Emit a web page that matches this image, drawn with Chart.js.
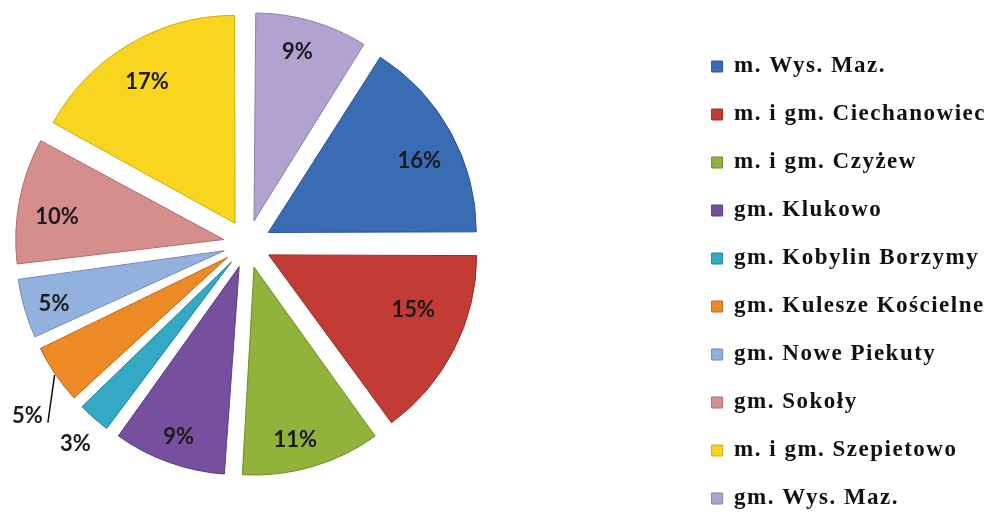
<!DOCTYPE html>
<html>
<head>
<meta charset="utf-8">
<script src="https://cdn.jsdelivr.net/npm/chart.js@4.4.1/dist/chart.umd.min.js"></script>
<style>
html,body{margin:0;padding:0;background:#fff;overflow:hidden;width:992px;height:525px;position:relative}
#wrap{position:absolute;left:-192px;top:-47px;width:1194px;height:582px}
</style>
</head>
<body>
<div id="wrap"><canvas id="c"></canvas></div>
<script>
// ---- data ----
const categories = [
  'm. Wys. Maz.',
  'm. i gm. Ciechanowiec',
  'm. i gm. Czyżew',
  'gm. Klukowo',
  'gm. Kobylin Borzymy',
  'gm. Kulesze Kościelne',
  'gm. Nowe Piekuty',
  'gm. Sokoły',
  'm. i gm. Szepietowo',
  'gm. Wys. Maz.'
];
const shares = [16, 15, 11, 9, 3, 5, 5, 10, 17, 9];

// ---- styles ----
const sliceColors = ['#3a6cb3','#c23b35','#8fb33b','#76509f','#34a9c6','#ec8a26','#92b1dc','#d58e8c','#f8d51e','#b2a2cf'];
const sliceBorders = ['#2b5590','#9a2b27','#6f8c2a','#5a3a7e','#23839b','#c06a14','#6f8cb8','#b06c6a','#cfae0a','#8f7fb0'];
const labelRadius = [0.807, 0.74, 0.845, 0.86, 1.145, 1.22, 0.855, 0.81, 0.81, 0.85];
const labelTurnDeg = [2.9, -7, 2.6, 0, -0.5, -3.8, -0.6, -2.5, -0.9, -2];
const labelLeader = [false, false, false, false, false, true, false, false, false, false];
const EXPLODE = 24;       // px translation of each slice
const PIE_RADIUS = 208;

const letterSpacingPlugin = {
  id: 'letterSpacing',
  beforeLayout(chart) { chart.ctx.letterSpacing = '1.5px'; },
  beforeDraw(chart) { chart.ctx.letterSpacing = '1.5px'; }
};

const radiusFixPlugin = {
  id: 'radiusFix',
  beforeDatasetsDraw(chart) {
    const meta = chart.getDatasetMeta(0);
    const base = meta.controller.outerRadius;
    meta.data.forEach(arc => {
      const fix = 1 - Math.sin(Math.min(Math.PI, arc.circumference || 0));
      arc.outerRadius = base - EXPLODE * fix;
    });
  }
};

const pctLabelPlugin = {
  id: 'pctLabels',
  afterDatasetsDraw(chart) {
    const ctx = chart.ctx;
    const meta = chart.getDatasetMeta(0);
    const R = meta.controller.outerRadius;
    ctx.save();
    ctx.letterSpacing = '0px';
    ctx.font = 'bold 22px Lato';
    ctx.fillStyle = '#1b1b1b';
    ctx.textAlign = 'center';
    ctx.textBaseline = 'middle';
    meta.data.forEach((arc, i) => {
      const mid = (arc.startAngle + arc.endAngle) / 2;
      const cx = arc.x + Math.cos(mid) * EXPLODE;
      const cy = arc.y + Math.sin(mid) * EXPLODE;
      const a = mid + labelTurnDeg[i] * Math.PI / 180;
      const r = labelRadius[i] * R;
      const lx = cx + Math.cos(a) * r;
      const ly = cy + Math.sin(a) * r;
      const text = shares[i] + '%';
      ctx.fillText(text, lx, ly + 2);
      if (labelLeader[i]) {
        const w = ctx.measureText(text).width;
        ctx.beginPath();
        ctx.strokeStyle = '#111';
        ctx.lineWidth = 1.5;
        ctx.moveTo(lx + w / 2 + 5, ly + 9);
        ctx.lineTo(cx + Math.cos(mid) * (R + 1), cy + Math.sin(mid) * (R + 1));
        ctx.stroke();
      }
    });
    ctx.restore();
  }
};

new Chart(document.getElementById('c'), {
  type: 'pie',
  data: {
    labels: categories,
    datasets: [{
      data: shares,
      backgroundColor: sliceColors,
      borderColor: sliceBorders,
      borderWidth: 1,
      offset: EXPLODE * 4,
      radius: PIE_RADIUS,
      clip: false
    }]
  },
  options: {
    responsive: true,
    maintainAspectRatio: false,
    animation: false,
    devicePixelRatio: 1,
    rotation: 32.4,
    layout: { padding: { left: 0, right: 6, top: 0, bottom: 0 } },
    plugins: {
      tooltip: { enabled: false },
      legend: {
        position: 'right',
        align: 'end',
        labels: {
          boxWidth: 11,
          boxHeight: 11,
          padding: 25,
          color: '#111',
          font: { family: 'Liberation Serif', size: 23, weight: 'bold' }
        }
      }
    }
  },
  plugins: [letterSpacingPlugin, radiusFixPlugin, pctLabelPlugin]
});
</script>
</body>
</html>
